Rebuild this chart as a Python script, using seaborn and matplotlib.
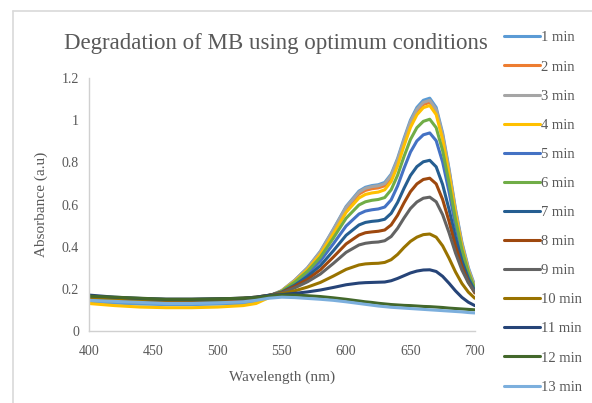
import matplotlib
matplotlib.use("Agg")
import matplotlib.pyplot as plt
from matplotlib.lines import Line2D
import seaborn as sns
import pandas as pd

wavelength = [400, 420, 440, 460, 480, 500, 520, 530, 540, 550, 560, 570, 580, 590, 600,
              610, 615, 620, 625, 630, 635, 640, 645, 650, 655, 660, 665, 670, 675, 680,
              685, 690, 695, 700]

series_names = ["1 min", "2 min", "3 min", "4 min", "5 min", "6 min", "7 min",
                "8 min", "9 min", "10 min", "11 min", "12 min", "13 min"]

s1 = [0.140, 0.132, 0.127, 0.125, 0.125, 0.127, 0.130, 0.140, 0.162, 0.191, 0.240, 0.300, 0.378, 0.482, 0.591,
      0.664, 0.682, 0.690, 0.694, 0.705, 0.744, 0.819, 0.914, 1.001, 1.061, 1.095, 1.105, 1.061, 0.940, 0.770,
      0.580, 0.421, 0.300, 0.215]
s2 = [0.150, 0.142, 0.137, 0.135, 0.135, 0.137, 0.140, 0.148, 0.165, 0.190, 0.238, 0.296, 0.372, 0.473, 0.579,
      0.650, 0.667, 0.675, 0.679, 0.689, 0.728, 0.802, 0.896, 0.983, 1.042, 1.075, 1.085, 1.041, 0.922, 0.754,
      0.566, 0.408, 0.289, 0.205]
s3 = [0.152, 0.144, 0.139, 0.137, 0.137, 0.139, 0.142, 0.150, 0.166, 0.191, 0.240, 0.299, 0.376, 0.479, 0.587,
      0.659, 0.677, 0.685, 0.689, 0.699, 0.738, 0.812, 0.906, 0.993, 1.052, 1.085, 1.095, 1.051, 0.931, 0.762,
      0.573, 0.414, 0.295, 0.210]
s4 = [0.130, 0.120, 0.113, 0.110, 0.110, 0.113, 0.120, 0.130, 0.158, 0.189, 0.235, 0.291, 0.364, 0.461, 0.563,
      0.631, 0.648, 0.655, 0.659, 0.670, 0.709, 0.784, 0.879, 0.966, 1.026, 1.060, 1.070, 1.027, 0.909, 0.743,
      0.557, 0.401, 0.284, 0.200]
s5 = [0.155, 0.147, 0.142, 0.140, 0.140, 0.142, 0.145, 0.152, 0.167, 0.186, 0.225, 0.271, 0.332, 0.413, 0.498,
      0.555, 0.569, 0.575, 0.579, 0.588, 0.622, 0.688, 0.772, 0.849, 0.902, 0.931, 0.940, 0.903, 0.802, 0.660,
      0.500, 0.367, 0.267, 0.195]
s6 = [0.150, 0.142, 0.137, 0.135, 0.135, 0.137, 0.140, 0.148, 0.165, 0.188, 0.231, 0.283, 0.350, 0.440, 0.535,
      0.598, 0.613, 0.620, 0.624, 0.633, 0.670, 0.739, 0.828, 0.909, 0.965, 0.995, 1.005, 0.965, 0.856, 0.702,
      0.530, 0.386, 0.277, 0.200]
s7 = [0.160, 0.152, 0.147, 0.145, 0.145, 0.147, 0.150, 0.156, 0.168, 0.184, 0.217, 0.258, 0.310, 0.380, 0.454,
      0.503, 0.515, 0.520, 0.523, 0.530, 0.558, 0.610, 0.677, 0.738, 0.780, 0.803, 0.810, 0.779, 0.695, 0.577,
      0.444, 0.333, 0.250, 0.190]
s8 = [0.160, 0.152, 0.147, 0.145, 0.146, 0.148, 0.151, 0.157, 0.168, 0.182, 0.211, 0.245, 0.290, 0.350, 0.413,
      0.455, 0.466, 0.470, 0.473, 0.479, 0.503, 0.549, 0.608, 0.661, 0.698, 0.719, 0.725, 0.698, 0.624, 0.520,
      0.403, 0.306, 0.232, 0.180]
s9 = [0.165, 0.157, 0.152, 0.150, 0.150, 0.152, 0.155, 0.160, 0.169, 0.180, 0.204, 0.233, 0.270, 0.320, 0.373,
      0.408, 0.416, 0.420, 0.422, 0.428, 0.448, 0.487, 0.536, 0.581, 0.612, 0.630, 0.635, 0.613, 0.552, 0.466,
      0.370, 0.289, 0.228, 0.185]
s10 = [0.160, 0.152, 0.148, 0.146, 0.147, 0.150, 0.155, 0.160, 0.169, 0.176, 0.190, 0.208, 0.230, 0.260, 0.292,
       0.313, 0.318, 0.320, 0.321, 0.325, 0.338, 0.363, 0.396, 0.425, 0.445, 0.457, 0.460, 0.445, 0.404, 0.345,
       0.280, 0.225, 0.184, 0.155]
s11 = [0.170, 0.160, 0.154, 0.150, 0.150, 0.152, 0.155, 0.160, 0.169, 0.172, 0.178, 0.185, 0.194, 0.206, 0.219,
       0.227, 0.229, 0.230, 0.231, 0.232, 0.238, 0.249, 0.262, 0.275, 0.284, 0.289, 0.290, 0.282, 0.259, 0.226,
       0.190, 0.159, 0.136, 0.120]
s12 = [0.165, 0.160, 0.155, 0.150, 0.150, 0.152, 0.155, 0.158, 0.165, 0.170, 0.170, 0.167, 0.163, 0.157, 0.150,
       0.142, 0.138, 0.135, 0.131, 0.128, 0.125, 0.123, 0.121, 0.120, 0.118, 0.116, 0.115, 0.113, 0.111, 0.108,
       0.106, 0.104, 0.102, 0.100]
s13 = [0.145, 0.140, 0.135, 0.130, 0.130, 0.133, 0.138, 0.145, 0.155, 0.160, 0.158, 0.154, 0.150, 0.145, 0.138,
       0.130, 0.126, 0.122, 0.118, 0.115, 0.112, 0.110, 0.108, 0.106, 0.104, 0.102, 0.100, 0.098, 0.096, 0.094,
       0.092, 0.090, 0.087, 0.085]

all_series = [s1, s2, s3, s4, s5, s6, s7, s8, s9, s10, s11, s12, s13]

colors = ["#5B9BD5", "#ED7D31", "#A5A5A5", "#FFC000", "#4472C4", "#70AD47", "#255E91",
          "#9E480E", "#636363", "#997300", "#264478", "#43682B", "#7CAFDD"]

rows = []
for name, vals in zip(series_names, all_series):
    for w, v in zip(wavelength, vals):
        rows.append({"Wavelength": w, "Absorbance": v, "Series": name})
df = pd.DataFrame(rows)

sns.set_theme(style="white")
plt.rcParams["font.family"] = ["Liberation Serif", "DejaVu Serif"]

fig = plt.figure(figsize=(5.92, 4.03), dpi=100)
ax = fig.add_axes([0.150, 0.179, 0.652, 0.627])

sns.lineplot(data=df, x="Wavelength", y="Absorbance", hue="Series",
             hue_order=series_names, palette=colors, linewidth=2.2,
             ax=ax, legend=True, sort=True)
for ln in ax.get_lines():
    ln.set_solid_joinstyle("round")
    ln.set_solid_capstyle("round")

ax.set_xlim(400, 700)
ax.set_ylim(0, 1.2)
ax.set_xticks([400, 450, 500, 550, 600, 650, 700])
ax.set_yticks([0, 0.2, 0.4, 0.6, 0.8, 1.0, 1.2])
ax.set_yticklabels(["0", "0.2", "0.4", "0.6", "0.8", "1", "1.2"])
ax.tick_params(axis="both", labelsize=10, colors="#595959", length=0, pad=7)
ax.tick_params(axis="x", pad=10)
ax.set_xlabel("Wavelength (nm)", fontsize=11, color="#595959", labelpad=9)
ax.set_ylabel("Absorbance (a.u)", fontsize=11, color="#595959", labelpad=10)

for side in ["top", "right"]:
    ax.spines[side].set_visible(False)
for side in ["left", "bottom"]:
    ax.spines[side].set_color("#D0D0D0")
    ax.spines[side].set_linewidth(1.0)

handles, labels = ax.get_legend_handles_labels()
ax.get_legend().remove()
for h in handles:
    h.set_linewidth(2.2)
fig.legend(handles, labels, loc="upper left", bbox_to_anchor=(0.842, 0.937),
           frameon=False, fontsize=10.5, handlelength=2.45, handletextpad=0.1,
           labelspacing=1.09, borderaxespad=0, labelcolor="#595959")

fig.text(0.466, 0.893, "Degradation of MB using optimum conditions",
         ha="center", va="center", fontsize=16.5, color="#595959")

# chart area border
fig.add_artist(Line2D([13/592, 13/592], [0, 1 - 11/403], color="#D9D9D9", lw=1.2,
                      transform=fig.transFigure))
fig.add_artist(Line2D([13/592, 1], [1 - 11/403, 1 - 11/403], color="#D9D9D9", lw=1.2,
                      transform=fig.transFigure))

fig.savefig("out.png", dpi=100, facecolor="white")
